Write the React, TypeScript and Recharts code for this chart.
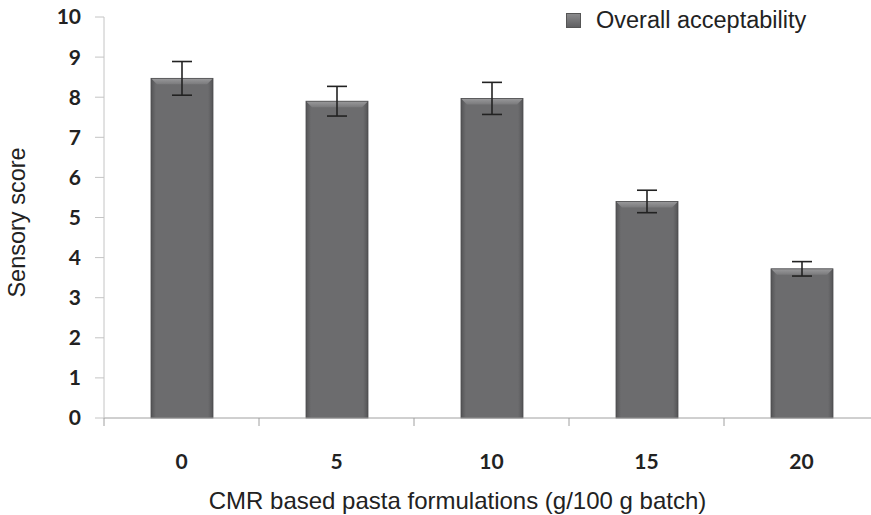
import { Bar, BarChart, ErrorBar, XAxis, YAxis } from 'recharts';

const categories = ['0', '5', '10', '15', '20'];
const acceptability = [8.47, 7.9, 7.97, 5.4, 3.72];
const acceptabilityErr = [0.42, 0.37, 0.4, 0.28, 0.18];
const yTicks = [0, 1, 2, 3, 4, 5, 6, 7, 8, 9, 10];

const data = categories.map((c, i) => ({
  label: c,
  value: acceptability[i],
  err: acceptabilityErr[i],
}));

const W = 880;
const H = 515;
const PLOT_BOTTOM = 418;
const BAND = (879 - 104) / categories.length;

const TICK_FONT = 'Lato, "DejaVu Sans", sans-serif';
const TEXT_FONT = '"Liberation Sans", Arial, sans-serif';

interface ShapeProps {
  x?: number;
  y?: number;
  width?: number;
  height?: number;
}

// bevelled bar like the old Excel style
function BevelBar({ x = 0, y = 0, width = 0, height = 0 }: ShapeProps) {
  if (height <= 0) return null;
  const b = 6;
  return (
    <g>
      <rect x={x} y={y} width={width} height={height} fill="url(#barFace)" />
      <polygon
        points={`${x},${y} ${x + width},${y} ${x + width - b},${y + b} ${x + b},${y + b}`}
        fill="url(#barTop)"
      />
      <rect x={x} y={y} width={width} height={height} fill="none" stroke="#4c4c4e" strokeWidth={0.8} />
    </g>
  );
}

interface TickProps {
  x?: number;
  y?: number;
  payload?: { value: string };
}

function XTick({ x = 0, payload }: TickProps) {
  return (
    <g>
      <line x1={x - BAND / 2} x2={x - BAND / 2} y1={PLOT_BOTTOM} y2={PLOT_BOTTOM + 8} stroke="#a0a0a0" />
      <text
        x={x}
        y={PLOT_BOTTOM + 51}
        textAnchor="middle"
        fill="#222"
        fontFamily={TICK_FONT}
        fontWeight={700}
        fontSize={21}
      >
        {payload?.value}
      </text>
    </g>
  );
}

function LegendBox() {
  return (
    <div
      style={{
        position: 'absolute',
        left: 566,
        top: 7,
        display: 'flex',
        alignItems: 'center',
        fontFamily: TEXT_FONT,
        fontSize: 23.5,
        color: '#222',
      }}
    >
      <span
        style={{
          display: 'inline-block',
          width: 15,
          height: 15,
          marginRight: 15,
          background: 'linear-gradient(#8a8a8c, #606062)',
          border: '1px solid #555',
          boxSizing: 'border-box',
        }}
      />
      Overall acceptability
    </div>
  );
}

export default function App() {
  return (
    <div style={{ position: 'fixed', left: 0, top: 0, width: 871, height: 515, overflow: 'hidden', background: '#fff' }}>
      <BarChart width={W} height={H} data={data} margin={{ top: 17, right: 1, left: 0, bottom: 0 }}>
        <defs>
          <linearGradient id="barFace" x1="0" y1="0" x2="1" y2="0">
            <stop offset="0" stopColor="#545456" />
            <stop offset="0.08" stopColor="#6c6c6e" />
            <stop offset="0.92" stopColor="#6c6c6e" />
            <stop offset="1" stopColor="#545456" />
          </linearGradient>
          <linearGradient id="barTop" x1="0" y1="0" x2="0" y2="1">
            <stop offset="0" stopColor="#9a9a9c" />
            <stop offset="1" stopColor="#7a7a7c" />
          </linearGradient>
        </defs>
        <XAxis
          dataKey="label"
          height={H - PLOT_BOTTOM}
          stroke="#a0a0a0"
          tickLine={false}
          tick={<XTick />}
          interval={0}
          label={{
            value: 'CMR based pasta formulations (g/100 g batch)',
            position: 'insideBottom',
            offset: 6,
            dx: -34,
            style: { fill: '#222', fontFamily: TEXT_FONT, fontSize: 24 },
          }}
        />
        <YAxis
          width={104}
          domain={[0, 10]}
          ticks={yTicks}
          stroke="#c4c4c4"
          tickSize={9}
          tickMargin={14}
          tick={{ fill: '#222', fontFamily: TICK_FONT, fontWeight: 700, fontSize: 21 }}
          label={{
            value: 'Sensory score',
            angle: -90,
            position: 'insideLeft',
            offset: 17,
            dy: 5,
            style: { fill: '#222', fontFamily: TEXT_FONT, fontSize: 23.5, textAnchor: 'middle' },
          }}
        />
        <Bar dataKey="value" name="Overall acceptability" barSize={62} shape={<BevelBar />} isAnimationActive={false}>
          <ErrorBar dataKey="err" width={10} stroke="#222" strokeWidth={1.6} direction="y" />
        </Bar>
      </BarChart>
      <LegendBox />
    </div>
  );
}
